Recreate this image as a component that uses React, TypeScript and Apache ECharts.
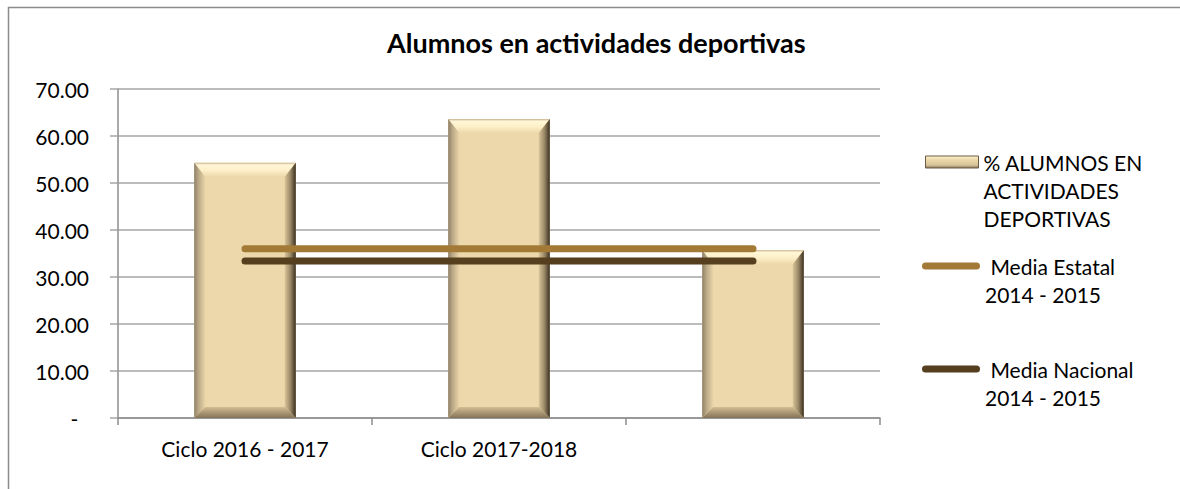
import React, { useEffect, useRef } from "react";
import * as echarts from "echarts";

const categories = ["Ciclo 2016 - 2017", "Ciclo 2017-2018", ""];
const alumnosValues = [54.3, 63.6, 35.7];
const mediaEstatal = [36.0, 36.0, 36.0];
const mediaNacional = [33.4, 33.4, 33.4];
const yTicks = { min: 0, max: 70, interval: 10 };

const nameBar = "% ALUMNOS EN\nACTIVIDADES\nDEPORTIVAS";
const nameEstatal = " Media Estatal\n2014 - 2015";
const nameNacional = " Media Nacional\n2014 - 2015";

const FONT = "Lato";
const pill = "path://M3.5,0H54.5A3.5,3.5,0,0,1,54.5,7H3.5A3.5,3.5,0,0,1,3.5,0Z";

function lg(x0: number, y0: number, x1: number, y1: number, stops: [number, string][]) {
  return new echarts.graphic.LinearGradient(
    x0, y0, x1, y1,
    stops.map(([offset, color]) => ({ offset, color }))
  );
}

export default function App() {
  const ref = useRef<HTMLDivElement>(null);
  useEffect(() => {
    if (!ref.current) return;
    const chart = echarts.init(ref.current, undefined, { renderer: "svg" });
    const legendText = { fontFamily: FONT, fontSize: 21, color: "#000", lineHeight: 28 };
    chart.setOption({
      animation: false,
      backgroundColor: "#fff",
      title: {
        text: "Alumnos en actividades deportivas",
        left: 387,
        top: 29,
        padding: 0,
        textStyle: { fontFamily: FONT, fontSize: 27, fontWeight: "bold", color: "#000" },
      },
      graphic: [
        {
          type: "polyline",
          shape: { points: [[8.5, 520], [8.5, 7.5], [1200, 7.5]] },
          style: { fill: "none", stroke: "#8c8c8c", lineWidth: 1.5 },
          silent: true,
          z: -10,
        },
      ],
      legend: [
        {
          data: [
            {
              name: nameBar,
              icon: "rect",
              itemStyle: {
                color: lg(0, 0, 0, 1, [[0, "#FFF4D2"], [0.3, "#EDD8AB"], [0.75, "#D9C49A"], [1, "#8A7A5E"]]),
                borderColor: "#6B5B42",
                borderWidth: 1,
              },
            },
          ],
          left: 925,
          top: 92,
          padding: 0,
          itemWidth: 53,
          itemHeight: 12,
          formatter: (n: string) => "\n\n" + n,
          textStyle: legendText,
          selectedMode: false,
        },
        {
          data: [{ name: nameEstatal, icon: pill }],
          left: 922,
          top: 224,
          padding: 0,
          itemWidth: 58,
          itemHeight: 7,
          formatter: (n: string) => "\n" + n,
          textStyle: legendText,
          selectedMode: false,
        },
        {
          data: [{ name: nameNacional, icon: pill }],
          left: 922,
          top: 327,
          padding: 0,
          itemWidth: 58,
          itemHeight: 7,
          formatter: (n: string) => "\n" + n,
          textStyle: legendText,
          selectedMode: false,
        },
      ],
      grid: { left: 118, right: 300, top: 89, bottom: 71, containLabel: false },
      xAxis: {
        type: "category",
        data: categories,
        boundaryGap: true,
        axisLine: { show: true, lineStyle: { color: "#8c8c8c", width: 1.5 } },
        axisTick: { show: true, length: 7, alignWithLabel: false, lineStyle: { color: "#8c8c8c", width: 1.5 } },
        axisLabel: { fontFamily: FONT, fontSize: 21, color: "#000", margin: 20 },
        splitLine: { show: false },
      },
      yAxis: {
        type: "value",
        min: yTicks.min,
        max: yTicks.max,
        interval: yTicks.interval,
        axisLine: { show: true, lineStyle: { color: "#8c8c8c", width: 1.5 } },
        axisTick: { show: true, length: 8, lineStyle: { color: "#a6a6a6", width: 1.5 } },
        axisLabel: {
          fontFamily: FONT,
          fontSize: 21,
          color: "#000",
          margin: 29,
          formatter: (v: number) => (v === 0 ? "-  " : v.toFixed(2)),
        },
        splitLine: { show: true, lineStyle: { color: "#a6a6a6", width: 1.5 } },
      },
      series: [
        {
          name: nameBar,
          type: "custom",
          z: 2,
          itemStyle: { color: "#EDD8AB" },
          encode: { x: 0, y: 1 },
          data: alumnosValues.map((v, i) => [i, v]),
          renderItem: (params: any, api: any) => {
            const idx = api.value(0);
            const v = api.value(1);
            const top = api.coord([idx, v]);
            const base = api.coord([idx, 0]);
            const band = api.size([1, 0])[0];
            const w = band * 0.4;
            const x0 = top[0] - w / 2;
            const x1 = top[0] + w / 2;
            const y0 = top[1];
            const y1 = base[1];
            const bt = 14;
            const bs = 11;
            const bb = 11;
            return {
              type: "group",
              children: [
                {
                  type: "rect",
                  shape: { x: x0, y: y0, width: x1 - x0, height: y1 - y0 },
                  style: { fill: "#EDD8AB" },
                },
                {
                  type: "polygon",
                  shape: { points: [[x0, y0], [x1, y0], [x1 - bs, y0 + bt], [x0 + bs, y0 + bt]] },
                  style: {
                    fill: lg(0, 0, 0, 1, [[0, "#C9B58C"], [0.15, "#FFF7D8"], [0.55, "#FDEFC8"], [1, "#EDD8AB"]]),
                  },
                },
                {
                  type: "polygon",
                  shape: { points: [[x0, y0], [x0 + bs, y0 + bt], [x0 + bs, y1 - bb], [x0, y1]] },
                  style: { fill: lg(0, 0, 1, 0, [[0, "#8F8068"], [0.4, "#BBA987"], [1, "#E9D5A9"]]) },
                },
                {
                  type: "polygon",
                  shape: { points: [[x1, y0], [x1, y1], [x1 - bs, y1 - bb], [x1 - bs, y0 + bt]] },
                  style: { fill: lg(0, 0, 1, 0, [[0, "#D8C499"], [0.5, "#9C8A68"], [1, "#3A2F20"]]) },
                },
                {
                  type: "polygon",
                  shape: { points: [[x0, y1], [x0 + bs, y1 - bb], [x1 - bs, y1 - bb], [x1, y1]] },
                  style: { fill: lg(0, 0, 0, 1, [[0, "#D2BD93"], [1, "#857357"]]) },
                },
              ],
            };
          },
        },
        {
          name: nameEstatal,
          type: "line",
          z: 5,
          data: mediaEstatal,
          color: "#A27A36",
          showSymbol: false,
          symbol: "none",
          lineStyle: { color: "#A27A36", width: 7, cap: "round" },
        },
        {
          name: nameNacional,
          type: "line",
          z: 5,
          data: mediaNacional,
          color: "#553F1E",
          showSymbol: false,
          symbol: "none",
          lineStyle: { color: "#553F1E", width: 7, cap: "round" },
        },
      ],
    });
    return () => chart.dispose();
  }, []);
  return (
    <div
      ref={ref}
      style={{ position: "absolute", left: 0, top: 0, width: 1180, height: 489 }}
    />
  );
}
